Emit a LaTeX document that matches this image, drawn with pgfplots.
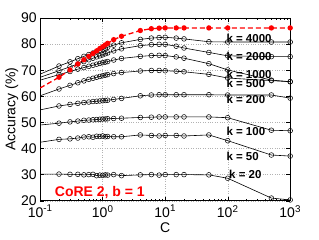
\documentclass[border=0pt]{standalone}
\usepackage{fontspec}
\setmainfont{Liberation Sans}
\usepackage{pgfplots}
\usepackage{pgfplotstable}
\pgfplotsset{compat=1.18}
\pgfplotstableread{
C     a4000 a2000 a1000 a500 a200 a100 a50  a20  red
0.1   68.5  67.3  66.2  60.2 54.8 49.0 42.4 30.2 63.2
0.2   71.6  69.8  68.3  62.8 56.3 49.7 43.5 30.2 67.3
0.3   73.2  71.3  69.5  64.2 56.9 50.2 43.7 30.1 70.1
0.4   74.4  72.4  70.4  65.2 57.3 50.5 44.0 30.1 72.4
0.5   75.3  73.3  71.0  65.9 57.6 50.8 44.4 29.9 74.0
0.6   76.0  74.0  71.5  66.5 57.8 50.9 44.5 30.0 75.3
0.7   76.6  74.6  71.9  66.9 58.0 51.0 44.3 30.1 76.4
0.8   77.1  75.1  72.3  67.3 58.1 51.1 44.7 29.6 77.4
0.9   77.6  75.5  72.6  67.6 58.2 51.2 44.6 29.8 78.3
1     78.0  75.9  72.9  67.9 58.3 51.3 44.8 29.7 79.0
1.1   78.4  76.3  73.1  68.1 58.4 51.3 44.5 29.9 79.7
1.2   78.8  76.6  73.3  68.3 58.5 51.4 44.6 29.8 80.3
1.5   79.6  77.4  73.9  68.7 58.8 51.5 44.5 30.0 81.7
2     80.5  78.2  74.5  69.1 59.2 51.6 44.5 29.6 83.0
4     81.8  79.4  75.3  69.7 60.2 51.9 45.2 29.9 85.2
6     82.3  79.8  75.6  69.9 60.5 52.0 45.0 30.0 85.9
8     82.5  79.9  75.7  69.9 60.6 52.1 44.8 29.8 86.1
10    82.6  79.9  75.6  69.8 60.6 52.1 45.0 30.0 86.2
15    82.3  79.2  75.1  69.6 60.6 52.1 45.0 30.0 86.2
20    82.0  78.5  74.6  69.4 60.6 52.1 44.8 30.0 86.2
50    80.9  76.8  72.5  68.4 60.6 52.1 45.2 29.9 86.2
100   80.8  75.5  70.1  67.0 60.5 51.8 43.0 28.6 86.2
500   80.8  75.2  66.2  66.0 60.5 47.0 37.5 21.0 86.2
1000  80.8  75.2  65.6  65.6 59.3 46.8 37.1 20.3 86.2
}\datatable
\begin{document}
\begin{tikzpicture}
\begin{axis}[
  scale only axis,
  width=250bp, height=182.7bp,
  xmode=log,
  xmin=0.1, xmax=1000,
  ymin=20, ymax=90,
  ytick={20,30,...,90},
  xtick={0.1,1,10,100,1000},
  xticklabels={10\textsuperscript{-1},10\textsuperscript{0},10\textsuperscript{1},10\textsuperscript{2},10\textsuperscript{3}},
  /pgf/number format/assume math mode=true,
  tick label style={font=\fontsize{14bp}{16bp}\selectfont},
  xticklabel style={yshift=-1bp},
  label style={font=\fontsize{14bp}{16bp}\selectfont},
  xlabel={C}, ylabel={Accuracy (\%)},
  xlabel style={yshift=2bp},
  ylabel style={yshift=-4bp},
  grid=major,
  major grid style={gray!60, dotted},
  tick align=inside,
  major tick length=4bp,
  minor tick length=2bp,
  axis line style={black, line width=0.5pt},
  every tick/.style={black},
  clip=true,
]
\foreach \col in {a4000,a2000,a1000,a500,a200,a100,a50,a20} {
  \addplot[black, line width=0.6pt, mark=o, mark size=2.4bp, mark options={solid, line width=0.5pt}, mark indices={2,...,24}] table[x=C, y=\col] {\datatable};
}
\addplot[red, line width=1.3pt, dash pattern=on 5bp off 3bp, mark=*, mark size=2.0bp, mark options={solid, fill=red}, mark indices={2,...,24}] table[x=C, y=red] {\datatable};
\begin{scope}[font=\fontsize{11.5bp}{13bp}\selectfont\bfseries]
\node[anchor=west, inner sep=0pt] at (axis cs:95,82.3) {k = 4000};
\node[anchor=west, inner sep=0pt] at (axis cs:95,75.2) {k = 2000};
\node[anchor=west, inner sep=0pt] at (axis cs:95,68.5) {k = 1000};
\node[anchor=west, inner sep=0pt] at (axis cs:95,65.0) {k = 500};
\node[anchor=west, inner sep=0pt] at (axis cs:95,59.0) {k = 200};
\node[anchor=west, inner sep=0pt] at (axis cs:95,46.7) {k = 100};
\node[anchor=west, inner sep=0pt] at (axis cs:95,37.1) {k = 50};
\node[anchor=west, inner sep=0pt] at (axis cs:105,30.1) {k = 20};
\end{scope}
\node[red, font=\fontsize{14bp}{16bp}\selectfont\bfseries] at (axis cs:0.9,23.3) {CoRE 2, b = 1};
\end{axis}
\path[use as bounding box] (-40.2bp,-39.3bp) rectangle (278.8bp,200.7bp);
\end{tikzpicture}
\end{document}
